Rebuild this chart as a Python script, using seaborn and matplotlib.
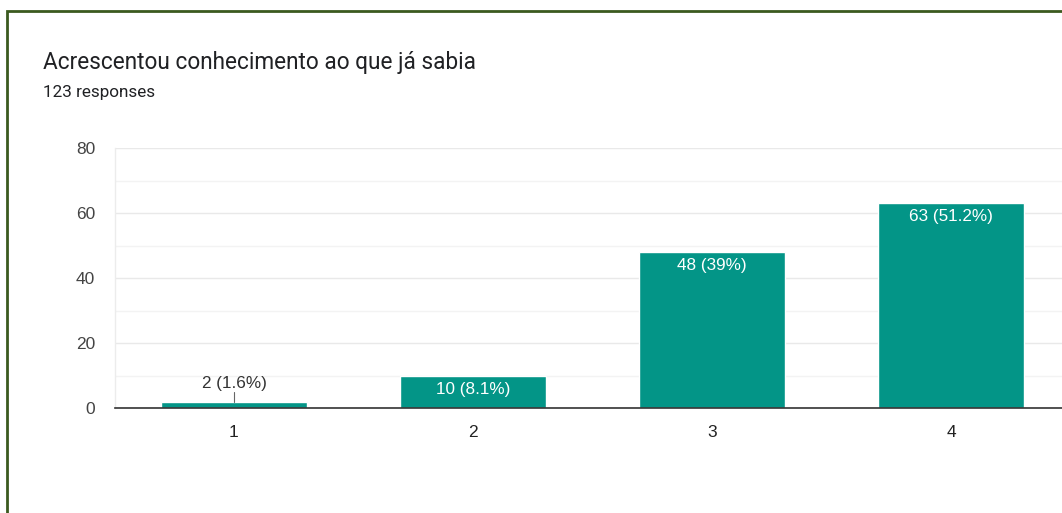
import matplotlib
matplotlib.use("Agg")
import matplotlib.pyplot as plt
from matplotlib.patches import Rectangle
import seaborn as sns
import pandas as pd

# Survey results
categories = ["1", "2", "3", "4"]
counts = [2, 10, 48, 63]
percent_labels = ["1.6%", "8.1%", "39%", "51.2%"]
title = "Acrescentou conhecimento ao que já sabia"
subtitle = "123 responses"
y_ticks = [0, 20, 40, 60, 80]

sns.set_theme(style="white")
plt.rcParams["font.family"] = ["Liberation Sans", "DejaVu Sans"]
head_font = ["Roboto", "DejaVu Sans"]

bar_color = "#039587"

df = pd.DataFrame({"option": categories, "count": counts})

fig = plt.figure(figsize=(10.62, 5.13), dpi=100)
ax = fig.add_axes([114.5 / 1062, 105 / 513, 956 / 1062, 260 / 513])

sns.barplot(data=df, x="option", y="count", color=bar_color, width=0.615,
            saturation=1, ax=ax, zorder=3)

ax.set_xlim(-0.5, 3.5)
ax.set_ylim(0, 80)
ax.set_yticks(y_ticks)
ax.set_yticks([10, 30, 50, 70], minor=True)
ax.grid(axis="y", which="major", color="#e9e9e9", linewidth=1, zorder=0)
ax.grid(axis="y", which="minor", color="#f3f3f3", linewidth=1, zorder=0)
ax.set_axisbelow(True)
for side in ["top", "right"]:
    ax.spines[side].set_visible(False)
ax.spines["left"].set_color("#ececec")
ax.spines["left"].set_linewidth(1)
ax.spines["bottom"].set_color("#333333")
ax.spines["bottom"].set_linewidth(1.2)
ax.spines["bottom"].set_zorder(5)
ax.set_xlabel("")
ax.set_ylabel("")
ax.tick_params(axis="y", which="both", length=0, labelsize=12.5,
               labelcolor="#444444", pad=14)
ax.tick_params(axis="x", length=0, labelsize=12.5, labelcolor="#222222", pad=12)

# Value labels: inside the bar when tall enough, otherwise above with a leader line
for i, (c, p) in enumerate(zip(counts, percent_labels)):
    text = f"{c} ({p})"
    if c >= 8:
        ax.text(i, c - 1.9, text, ha="center", va="top", color="white",
                fontsize=12.3, zorder=6)
    else:
        ax.plot([i, i], [c, c + 2.8], color="#666666", linewidth=0.8, zorder=6)
        ax.text(i, c + 3.1, text, ha="center", va="bottom", color="#333333",
                fontsize=12.3, zorder=6)

fig.text(43 / 1062, 1 - 62 / 513, title, ha="left", va="center",
         fontsize=16.3, color="#202124", family=head_font)
fig.text(43 / 1062, 1 - 93 / 513, subtitle, ha="left", va="center",
         fontsize=12.3, color="#202124", family=head_font)

# Card frame
fig.patches.append(Rectangle((7 / 1062, -0.1), 1.2, 1 - 11 / 513 + 0.1,
                             transform=fig.transFigure, fill=False,
                             edgecolor="#3b5a1f", linewidth=2))

fig.savefig("out.png", dpi=100)
